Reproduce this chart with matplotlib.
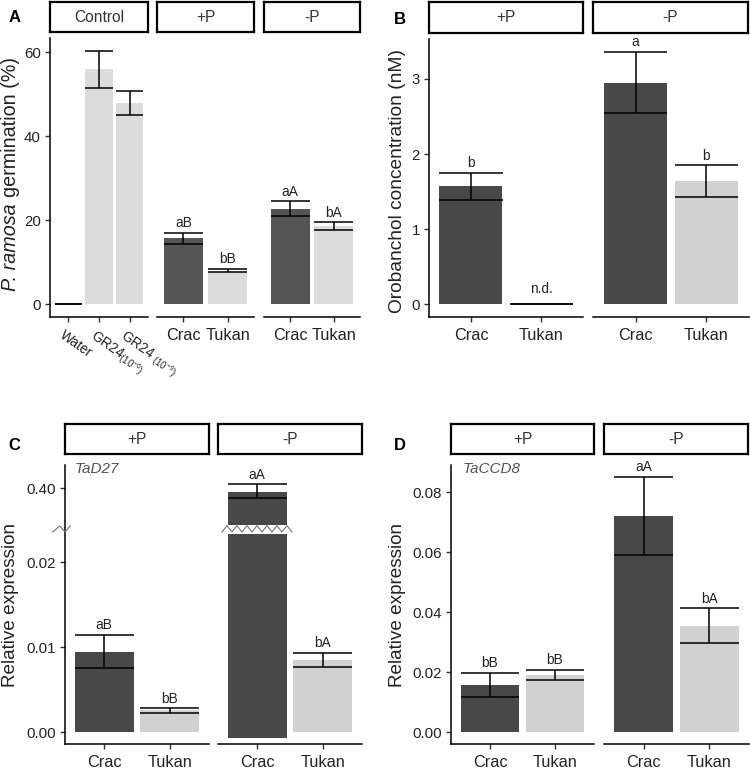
import numpy as np
import matplotlib
matplotlib.use('Agg')
import matplotlib.pyplot as plt
from matplotlib.ticker import FixedLocator, FormatStrFormatter
from matplotlib.transforms import ScaledTranslation

plt.rcParams['font.family'] = ['Liberation Sans', 'DejaVu Sans']
plt.rcParams['mathtext.fontset'] = 'custom'
plt.rcParams['mathtext.rm'] = 'Liberation Sans'
plt.rcParams['mathtext.it'] = 'Liberation Sans:italic'
plt.rcParams['mathtext.bf'] = 'Liberation Sans:bold'

W, H = 750, 769
DARK_A, LIGHT_A = '#555555', '#dcdcdc'
DARK, LIGHT = '#484848', '#d1d1d1'
TXT = '#222222'

# ---- data ----
cultivars = ['Crac', 'Tukan']

# A: P. ramosa germination (%)
a_ctrl_cats = ['Water', 'GR24$_{(10^{-6})}$', 'GR24 $_{(10^{-9})}$']
a_ctrl_mean = [0, 56.0, 48.0]
a_ctrl_lo = [0, 51.5, 45.1]
a_ctrl_hi = [0, 60.4, 50.9]
a_plus_mean = [15.7, 8.0]
a_plus_lo = [14.3, 7.7]
a_plus_hi = [17.0, 8.5]
a_plus_lab = ['aB', 'bB']
a_minus_mean = [22.7, 18.6]
a_minus_lo = [21.0, 17.7]
a_minus_hi = [24.5, 19.5]
a_minus_lab = ['aA', 'bA']

# B: orobanchol (nM)
b_plus_mean = [1.57, 0]
b_plus_lo = [1.39, 0]
b_plus_hi = [1.75, 0]
b_plus_lab = ['b', 'n.d.']
b_minus_mean = [2.95, 1.64]
b_minus_lo = [2.55, 1.43]
b_minus_hi = [3.36, 1.85]
b_minus_lab = ['a', 'b']

# C: TaD27 relative expression (broken axis)
c_plus_mean = [0.00945, 0.0026]
c_plus_lo = [0.0075, 0.0023]
c_plus_hi = [0.01145, 0.0028]
c_plus_lab = ['aB', 'bB']
c_minus_mean = [0.3963, 0.00843]
c_minus_lo = [0.3897, 0.00765]
c_minus_hi = [0.4037, 0.00933]
c_minus_lab = ['aA', 'bA']
c_minus_base = [-0.0007, 0]

# D: TaCCD8 relative expression
d_plus_mean = [0.0156, 0.0189]
d_plus_lo = [0.0117, 0.0172]
d_plus_hi = [0.0197, 0.0208]
d_plus_lab = ['bB', 'bB']
d_minus_mean = [0.0719, 0.0353]
d_minus_lo = [0.0591, 0.0297]
d_minus_hi = [0.0850, 0.0412]
d_minus_lab = ['aA', 'bA']

# broken-axis scale for C
B1, B2, K = 0.02435, 0.363, 0.11765


def brk_fwd(v):
    v = np.asarray(v, dtype=float)
    return np.where(v <= B1, v, B1 + np.clip(v - B2, 0, None) * K)


def brk_inv(t):
    t = np.asarray(t, dtype=float)
    return np.where(t <= B1, t, B2 + (t - B1) / K)


fig = plt.figure(figsize=(W / 100, H / 100), dpi=100)
renderer = fig.canvas.get_renderer()


def rect(x0, y0, x1, y1):
    return [x0 / W, 1 - y1 / H, (x1 - x0) / W, (y1 - y0) / H]


def strip(x0, x1, y0, y1, text):
    sax = fig.add_axes(rect(x0, y0, x1, y1))
    sax.set_xticks([])
    sax.set_yticks([])
    for s in sax.spines.values():
        s.set_linewidth(1.6)
    sax.text(0.5, 0.5, text, ha='center', va='center', fontsize=11.2,
             color='#333333', transform=sax.transAxes)


def facet(box, cats, mean, lo, hi, labels, colors, ylim, first,
          base=None, scale=None):
    ax = fig.add_axes(rect(*box))
    if scale is not None:
        ax.set_yscale('function', functions=scale)
    x = np.arange(1, len(cats) + 1)
    base = np.zeros(len(cats)) if base is None else np.asarray(base)
    ax.bar(x, np.asarray(mean) - base, bottom=base, width=0.9,
           color=colors, zorder=2)
    ax.vlines(x, lo, hi, color='black', lw=1.1, zorder=5)
    ax.hlines(lo, x - 0.45, x + 0.45, color='black', lw=1.1, zorder=5)
    ax.hlines(hi, x - 0.45, x + 0.45, color='black', lw=1.1, zorder=5)
    for xi, h, lab in zip(x, hi, labels):
        pad = 8.5 if lab == 'n.d.' else 4
        ax.annotate(lab, (xi, h), xytext=(0, pad), textcoords='offset points',
                    ha='center', va='baseline', fontsize=9.8, color=TXT)
    ax.set_xlim(0.4, len(cats) + 0.6)
    ax.set_ylim(*ylim)
    ax.set_xticks(x, cats)
    ax.spines[['top', 'right']].set_visible(False)
    ax.spines['bottom'].set_linewidth(1.1)
    ax.spines['left'].set_linewidth(1.1)
    ax.tick_params(axis='both', length=3.5, width=1.0, color='#333333',
                   labelcolor=TXT, pad=3)
    ax.tick_params(axis='y', labelsize=10.8)
    ax.tick_params(axis='x', labelsize=11.7, pad=4.5)
    if not first:
        ax.spines['left'].set_visible(False)
        ax.tick_params(axis='y', left=False, labelleft=False)
    return ax


def two_cols(cats):
    return [DARK if c == 'Crac' else LIGHT for c in cats]


# ---------- Panel A ----------
ylim_a = (-3.0, 63.4)
ax = facet((50, 38, 148, 317), a_ctrl_cats, a_ctrl_mean, a_ctrl_lo, a_ctrl_hi,
           ['', '', ''], [LIGHT_A] * 3, ylim_a, True)
ax.set_yticks([0, 20, 40, 60])
for lbl in ax.get_xticklabels():
    lbl.set_rotation(-35)
    lbl.set_ha('left')
    lbl.set_va('top')
    lbl.set_rotation_mode('anchor')
    lbl.set_fontsize(9.8)
    lbl.set_transform(lbl.get_transform() + ScaledTranslation(-0.03, 0.0, fig.dpi_scale_trans))
strip(50, 148, 2, 32, 'Control')

cols_a = [DARK_A, LIGHT_A]
facet((157, 38, 254, 317), cultivars, a_plus_mean, a_plus_lo, a_plus_hi,
      a_plus_lab, cols_a, ylim_a, False)
strip(157, 254, 2, 32, '+P')
facet((264, 38, 360, 317), cultivars, a_minus_mean, a_minus_lo, a_minus_hi,
      a_minus_lab, cols_a, ylim_a, False)
strip(264, 360, 2, 32, '-P')

# y title of A: italic species name + plain rest, on one rotated baseline
kw = dict(rotation=90, rotation_mode='anchor', ha='left', va='baseline',
          fontsize=14.2, color=TXT)
t1 = fig.text(16 / W, 0, 'P. ramosa', style='italic', **kw)
t2 = fig.text(16 / W, 0, 'germination (%)', **kw)
h1 = t1.get_window_extent(renderer).height
h2 = t2.get_window_extent(renderer).height
gap = 5.5
start = (H - 174) - (h1 + gap + h2) / 2
t1.set_y(start / H)
t2.set_y((start + h1 + gap) / H)

fig.text(15 / W, 1 - 18 / H, 'A', fontsize=12, fontweight='bold',
         ha='center', va='center')

# ---------- Panel B ----------
ylim_b = (-0.168, 3.53)
ax = facet((429, 39, 583, 317), cultivars, b_plus_mean, b_plus_lo, b_plus_hi,
           b_plus_lab, two_cols(cultivars), ylim_b, True)
ax.set_yticks([0, 1, 2, 3])
strip(429, 583, 2, 33, '+P')
facet((593, 39, 749, 317), cultivars, b_minus_mean, b_minus_lo, b_minus_hi,
      b_minus_lab, two_cols(cultivars), ylim_b, False)
strip(593, 748, 2, 33, '-P')
fig.text(398 / W, 1 - 181 / H, 'Orobanchol concentration (nM)', rotation=90,
         ha='center', va='center', fontsize=13.8, color=TXT)
fig.text(400 / W, 1 - 19 / H, 'B', fontsize=12, fontweight='bold',
         ha='center', va='center')

# ---------- Panel C ----------
ylim_c = (-0.0014, 0.423)
ax = facet((65, 465, 209, 744), cultivars, c_plus_mean, c_plus_lo, c_plus_hi,
           c_plus_lab, two_cols(cultivars), ylim_c, True,
           scale=(brk_fwd, brk_inv))
ax.yaxis.set_major_locator(FixedLocator([0, 0.01, 0.02, 0.40]))
ax.yaxis.set_major_formatter(FormatStrFormatter('%.2f'))
ax.yaxis.set_minor_locator(FixedLocator([]))
# break mark on the y axis
zx = 0.4 + np.array([-0.19, -0.08, 0.0, 0.08])
zy = np.array([0.02353, 0.02424, 0.02353, 0.02424])
ax.plot(zx, zy, color='#777777', lw=0.8, clip_on=False, zorder=6)
ax.text(0.07, 1.01, 'TaD27', transform=ax.transAxes, style='italic',
        fontsize=11, color='#555555', ha='left', va='top')
strip(65, 209, 424, 454, '+P')

ax = facet((218, 465, 362, 744), cultivars, c_minus_mean, c_minus_lo, c_minus_hi,
           c_minus_lab, two_cols(cultivars), ylim_c, False,
           base=c_minus_base, scale=(brk_fwd, brk_inv))
ax.yaxis.set_minor_locator(FixedLocator([]))
# break mark across the tall bar
ax.fill_between([0.55, 1.45], 0.02335, B1, color='white', lw=0, zorder=3)
zx = np.linspace(0.46, 1.53, 15)
zy = np.where(np.arange(15) % 2 == 0, 0.02353, 0.02428)
ax.plot(zx, zy, color='#777777', lw=0.8, zorder=4)
strip(218, 362, 424, 454, '-P')
fig.text(11 / W, 1 - 605 / H, 'Relative expression', rotation=90,
         ha='center', va='center', fontsize=13.6, color=TXT)
fig.text(14 / W, 1 - 446 / H, 'C', fontsize=12, fontweight='bold',
         ha='center', va='center')

# ---------- Panel D ----------
ylim_d = (-0.004, 0.089)
ax = facet((451, 465, 594, 744), cultivars, d_plus_mean, d_plus_lo, d_plus_hi,
           d_plus_lab, two_cols(cultivars), ylim_d, True)
ax.set_yticks([0, 0.02, 0.04, 0.06, 0.08])
ax.yaxis.set_major_formatter(FormatStrFormatter('%.2f'))
ax.text(0.084, 1.01, 'TaCCD8', transform=ax.transAxes, style='italic',
        fontsize=11, color='#555555', ha='left', va='top')
strip(451, 594, 424, 454, '+P')
facet((604, 465, 749, 744), cultivars, d_minus_mean, d_minus_lo, d_minus_hi,
      d_minus_lab, two_cols(cultivars), ylim_d, False)
strip(604, 748, 424, 454, '-P')
fig.text(398 / W, 1 - 605 / H, 'Relative expression', rotation=90,
         ha='center', va='center', fontsize=13.6, color=TXT)
fig.text(400 / W, 1 - 446 / H, 'D', fontsize=12, fontweight='bold',
         ha='center', va='center')

fig.savefig('out.png', dpi=100)
